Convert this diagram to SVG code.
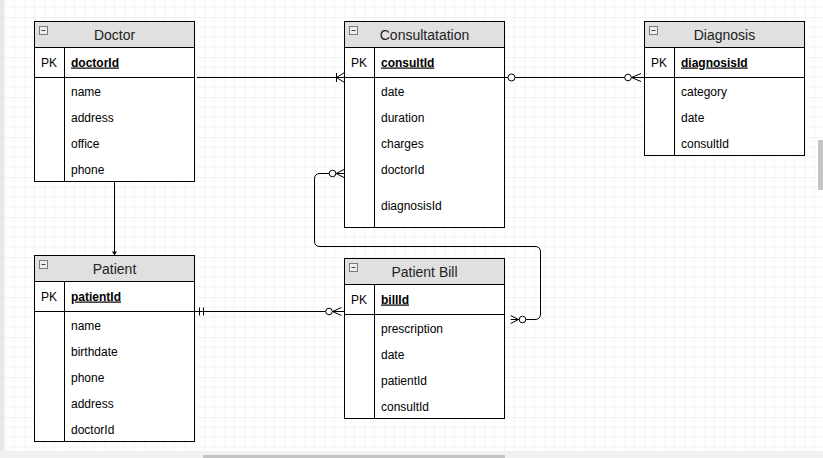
<svg xmlns="http://www.w3.org/2000/svg" width="823" height="458" viewBox="0 0 823 458">
<defs>
<pattern id="grid" x="4.5" y="17" width="40" height="40" patternUnits="userSpaceOnUse">
<path d="M10 0V40M20 0V40M30 0V40M0 10H40M0 20H40M0 30H40" stroke="#f3f3f3" stroke-width="1" fill="none"/>
<path d="M0 0V40M0 0H40" stroke="#e6e6e6" stroke-width="1" fill="none"/>
</pattern>
<g id="icon">
<rect x="0" y="0" width="8" height="8" fill="#eeeeee" stroke="#7a7a7a" stroke-width="1"/>
<line x1="2" y1="4" x2="6" y2="4" stroke="#444" stroke-width="1"/>
</g>
</defs>
<style>
.box{fill:#ffffff;stroke:#000000;stroke-width:1}
.hdr{fill:#e0e0e0;stroke:#000000;stroke-width:1}
.ln{stroke:#000000;stroke-width:1;fill:none}
.title{font-family:"Liberation Sans",Arial,sans-serif;font-size:14px;fill:#222222;text-anchor:middle}
.pk{font-family:"Liberation Sans",Arial,sans-serif;font-size:12px;fill:#000000}
.key{font-family:"Liberation Sans",Arial,sans-serif;font-size:12px;font-weight:bold;fill:#000000;text-decoration:underline}
.fld{font-family:"Liberation Sans",Arial,sans-serif;font-size:12px;fill:#000000}
.circ{fill:#ffffff;stroke:#000000;stroke-width:1}
</style>
<rect x="0" y="0" width="823" height="458" fill="#ffffff"/>
<rect x="0" y="0" width="823" height="451" fill="url(#grid)"/>
<rect x="0" y="0" width="4" height="451" fill="#e8e8e8"/>
<rect x="0" y="451" width="823" height="7" fill="#f1f1f1"/>
<rect x="203" y="455" width="302" height="3" fill="#c4c4c4"/>
<rect x="818" y="140" width="5" height="50" fill="#c4c4c4"/>

<g id="connectors">
<!-- Doctor to Consultation: one-to-many -->
<line class="ln" x1="197" y1="77.5" x2="344.5" y2="77.5"/>
<line class="ln" x1="336.5" y1="73" x2="336.5" y2="82"/>
<path class="ln" d="M344.5 72.5L336.5 77.5L344.5 82.5"/>
<!-- Consultation to Diagnosis: zero-to-one / zero-to-many -->
<line class="ln" x1="504.5" y1="77.5" x2="644.5" y2="77.5"/>
<line x1="503.5" y1="73.5" x2="503.5" y2="81.5" stroke="#000" stroke-width="1.5"/>
<circle class="circ" cx="511.5" cy="77.5" r="3.5"/>
<path class="ln" d="M641 73.5L631.5 77.5L641 81.5"/>
<circle class="circ" cx="628" cy="77.5" r="3.3"/>
<!-- Doctor to Patient -->
<line class="ln" x1="114.5" y1="181.5" x2="114.5" y2="252"/>
<path d="M112 251.5L117 251.5L114.5 255.5Z" fill="#000"/>
<!-- Patient to Patient Bill -->
<line class="ln" x1="194.5" y1="311.5" x2="344.5" y2="311.5"/>
<line class="ln" x1="199.5" y1="307.5" x2="199.5" y2="315.5"/>
<line class="ln" x1="203.5" y1="307.5" x2="203.5" y2="315.5"/>
<path class="ln" d="M341.5 307.5L332.5 311.5L341.5 315.5"/>
<circle class="circ" cx="329" cy="311.5" r="3.3"/>
<!-- Consultation to Patient Bill -->
<path class="ln" d="M344.5 173.5H320Q314.5 173.5 314.5 179V241Q314.5 246.5 320 246.5H535Q540.5 246.5 540.5 252V314Q540.5 319.5 535 319.5H510.7"/>
<path class="ln" d="M344 169.5L336 173.5L344 177.5"/>
<circle class="circ" cx="332.5" cy="173.5" r="3.3"/>
<path class="ln" d="M510.7 315.5L518.5 319.5L510.7 323.5"/>
<circle class="circ" cx="522.5" cy="319.5" r="3.3"/>
</g>

<g id="doctor">
<rect class="box" x="34.5" y="21.5" width="160" height="160"/>
<rect class="hdr" x="34.5" y="21.5" width="160" height="26"/>
<use href="#icon" x="39.5" y="26.5"/>
<text class="title" x="114.5" y="40">Doctor</text>
<line class="ln" x1="34.5" y1="77.5" x2="194.5" y2="77.5"/>
<line class="ln" x1="64.5" y1="47.5" x2="64.5" y2="181.5"/>
<text class="pk" x="41" y="66.5">PK</text>
<text class="key" x="71" y="66.5">doctorId</text>
<text class="fld" x="71" y="95.5">name</text>
<text class="fld" x="71" y="121.5">address</text>
<text class="fld" x="71" y="147.5">office</text>
<text class="fld" x="71" y="173.5">phone</text>
</g>

<g id="consultation">
<rect class="box" x="344.5" y="21.5" width="160" height="206"/>
<rect class="hdr" x="344.5" y="21.5" width="160" height="26"/>
<use href="#icon" x="349.5" y="26.5"/>
<text class="title" x="424.5" y="40">Consultatation</text>
<line class="ln" x1="344.5" y1="77.5" x2="504.5" y2="77.5"/>
<line class="ln" x1="374.5" y1="47.5" x2="374.5" y2="227.5"/>
<text class="pk" x="351" y="66.5">PK</text>
<text class="key" x="381" y="66.5">consultId</text>
<text class="fld" x="381" y="95.5">date</text>
<text class="fld" x="381" y="121.5">duration</text>
<text class="fld" x="381" y="147.5">charges</text>
<text class="fld" x="381" y="173.5">doctorId</text>
<text class="fld" x="381" y="209.5">diagnosisId</text>
</g>

<g id="diagnosis">
<rect class="box" x="644.5" y="21.5" width="160" height="134"/>
<rect class="hdr" x="644.5" y="21.5" width="160" height="26"/>
<use href="#icon" x="649.5" y="26.5"/>
<text class="title" x="724.5" y="40">Diagnosis</text>
<line class="ln" x1="644.5" y1="77.5" x2="804.5" y2="77.5"/>
<line class="ln" x1="674.5" y1="47.5" x2="674.5" y2="155.5"/>
<text class="pk" x="651" y="66.5">PK</text>
<text class="key" x="681" y="66.5">diagnosisId</text>
<text class="fld" x="681" y="95.5">category</text>
<text class="fld" x="681" y="121.5">date</text>
<text class="fld" x="681" y="147.5">consultId</text>
</g>

<g id="patient">
<rect class="box" x="34.5" y="255.5" width="160" height="186"/>
<rect class="hdr" x="34.5" y="255.5" width="160" height="26"/>
<use href="#icon" x="39.5" y="260.5"/>
<text class="title" x="114.5" y="274">Patient</text>
<line class="ln" x1="34.5" y1="311.5" x2="194.5" y2="311.5"/>
<line class="ln" x1="64.5" y1="281.5" x2="64.5" y2="441.5"/>
<text class="pk" x="41" y="300.5">PK</text>
<text class="key" x="71" y="300.5">patientId</text>
<text class="fld" x="71" y="329.5">name</text>
<text class="fld" x="71" y="355.5">birthdate</text>
<text class="fld" x="71" y="381.5">phone</text>
<text class="fld" x="71" y="407.5">address</text>
<text class="fld" x="71" y="433.5">doctorId</text>
</g>

<g id="patient-bill">
<rect class="box" x="344.5" y="258.5" width="160" height="160"/>
<rect class="hdr" x="344.5" y="258.5" width="160" height="26"/>
<use href="#icon" x="349.5" y="263.5"/>
<text class="title" x="424.5" y="277">Patient Bill</text>
<line class="ln" x1="344.5" y1="314.5" x2="504.5" y2="314.5"/>
<line class="ln" x1="374.5" y1="284.5" x2="374.5" y2="418.5"/>
<text class="pk" x="351" y="303.5">PK</text>
<text class="key" x="381" y="303.5">billId</text>
<text class="fld" x="381" y="332.5">prescription</text>
<text class="fld" x="381" y="358.5">date</text>
<text class="fld" x="381" y="384.5">patientId</text>
<text class="fld" x="381" y="410.5">consultId</text>
</g>
</svg>
